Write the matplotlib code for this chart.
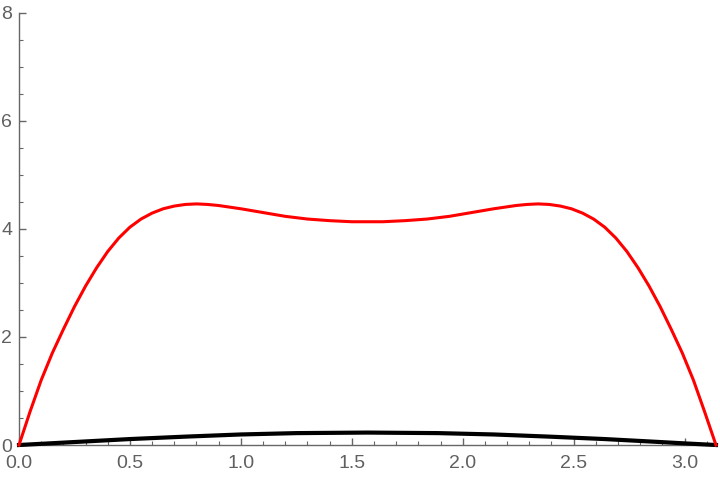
import numpy as np
import matplotlib
matplotlib.use("Agg")
import matplotlib.pyplot as plt
from matplotlib.ticker import MultipleLocator

# red curve
red_x = [0.00, 0.05, 0.10, 0.15, 0.20, 0.25, 0.30, 0.35, 0.40, 0.45, 0.50,
         0.55, 0.60, 0.65, 0.70, 0.75, 0.80, 0.85, 0.90, 1.00, 1.10, 1.20,
         1.30, 1.40, 1.50, 1.5708, 1.64, 1.74, 1.84, 1.94, 2.04, 2.14, 2.24,
         2.29, 2.34, 2.39, 2.44, 2.49, 2.54, 2.59, 2.64, 2.69, 2.74, 2.79,
         2.84, 2.89, 2.94, 2.99, 3.04, 3.09, 3.1416]
red_y = [0.00, 0.62, 1.20, 1.70, 2.14, 2.56, 2.94, 3.28, 3.58, 3.83, 4.03,
         4.18, 4.29, 4.37, 4.42, 4.45, 4.46, 4.45, 4.43, 4.37, 4.30, 4.23,
         4.18, 4.15, 4.13, 4.13, 4.13, 4.15, 4.18, 4.23, 4.30, 4.37, 4.43,
         4.45, 4.46, 4.45, 4.42, 4.37, 4.29, 4.18, 4.03, 3.83, 3.58, 3.28,
         2.94, 2.56, 2.14, 1.70, 1.20, 0.62, 0.00]

# black curve
black_x = [0.00, 0.25, 0.50, 0.75, 1.00, 1.25, 1.5708, 1.89, 2.14, 2.39,
           2.64, 2.89, 3.00, 3.1416]
black_y = [0.000, 0.055, 0.110, 0.155, 0.195, 0.220, 0.230, 0.220, 0.195,
           0.155, 0.110, 0.055, 0.030, 0.000]

x_ticks = [0.0, 0.5, 1.0, 1.5, 2.0, 2.5, 3.0]
y_ticks = [0, 2, 4, 6, 8]

plt.rcParams['font.family'] = ['Liberation Sans', 'DejaVu Sans']
gray = '#666666'

fig = plt.figure(figsize=(7.2, 4.8), dpi=100)
ax = fig.add_axes([0.0264, 0.0729, 0.968, 0.901])

ax.plot(black_x, black_y, color='black', linewidth=3.0, clip_on=False, zorder=3)
ax.plot(red_x, red_y, color='#ff0000', linewidth=2.2, clip_on=False, zorder=4)

ax.set_xlim(0, np.pi)
ax.set_ylim(0, 8)
ax.set_xticks(x_ticks)
ax.set_xticklabels(['%.1f' % v for v in x_ticks])
ax.set_yticks(y_ticks)
ax.set_yticklabels([str(v) for v in y_ticks])
ax.xaxis.set_minor_locator(MultipleLocator(0.1))
ax.yaxis.set_minor_locator(MultipleLocator(0.5))

for side in ['top', 'right']:
    ax.spines[side].set_visible(False)
for side in ['left', 'bottom']:
    ax.spines[side].set_color(gray)
    ax.spines[side].set_linewidth(1.0)

ax.tick_params(which='major', direction='in', length=5, width=1.0,
               color=gray, labelcolor='#606060', labelsize=14)
ax.tick_params(axis='x', which='major', pad=7)
ax.tick_params(axis='y', which='major', pad=5)
ax.tick_params(which='minor', direction='in', length=3, width=0.8, color=gray)

fig.savefig('out.png', dpi=100)
